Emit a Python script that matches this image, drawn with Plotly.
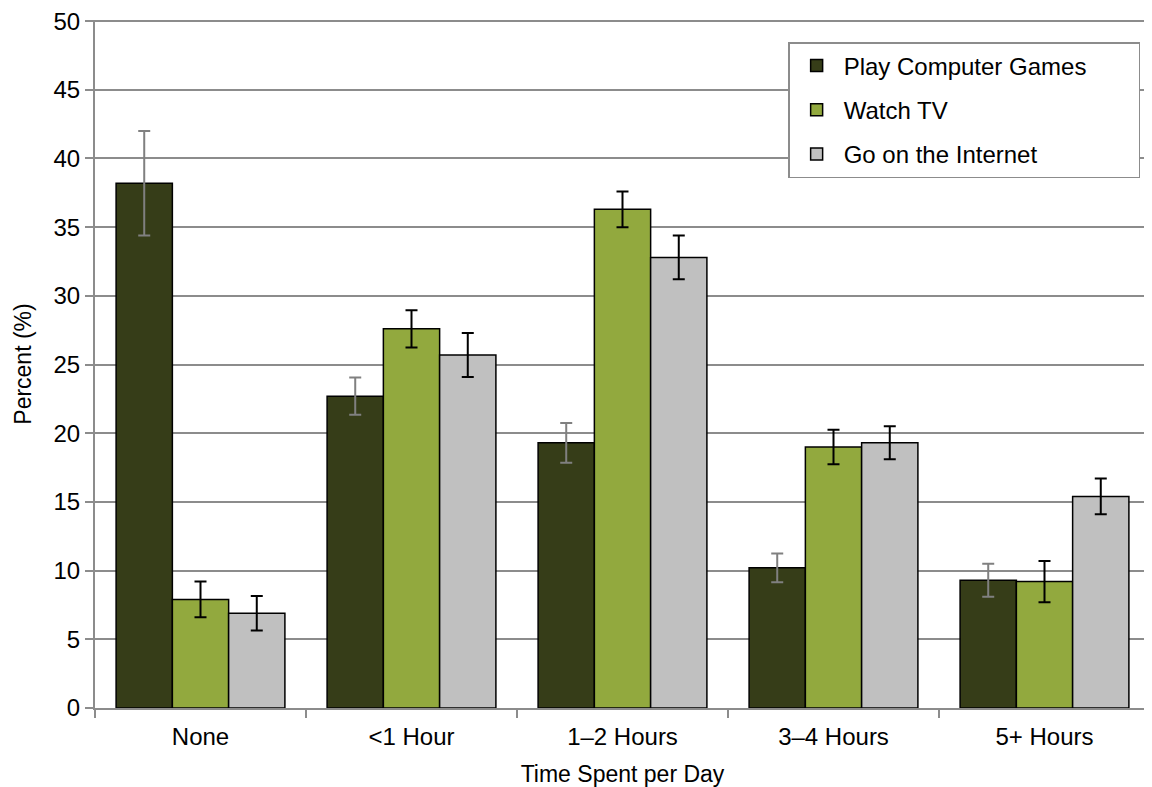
import plotly.graph_objects as go

categories = ["None", "<1 Hour", "1–2 Hours", "3–4 Hours", "5+ Hours"]

games = [38.2, 22.7, 19.3, 10.2, 9.3]
games_err = [3.8, 1.35, 1.45, 1.05, 1.2]

tv = [7.9, 27.6, 36.3, 19.0, 9.2]
tv_err = [1.3, 1.35, 1.3, 1.25, 1.5]

internet = [6.9, 25.7, 32.8, 19.3, 15.4]
internet_err = [1.25, 1.6, 1.6, 1.2, 1.3]

series = [
    ("Play Computer Games", games, games_err, "#363d18", "#808080"),
    ("Watch TV", tv, tv_err, "#92a93e", "#000000"),
    ("Go on the Internet", internet, internet_err, "#c0c0c0", "#000000"),
]

fig = go.Figure()
for i, (name, vals, errs, color, ecolor) in enumerate(series):
    fig.add_trace(go.Bar(
        name=name + "\u00a0" * 7,
        x=categories,
        y=vals,
        legendgroup=f"g{i}",
        marker=dict(color=color, line=dict(color="#000000", width=1.5)),
        error_y=dict(type="data", array=errs, visible=True,
                     color=ecolor, thickness=2, width=6),
    ))

font = "Liberation Sans, Arial, sans-serif"

# page body has an 8px margin, so the figure is a bit smaller than the window
fig.update_layout(
    width=1144, height=779,
    margin=dict(l=87, r=2, t=12, b=79, autoexpand=False),
    barmode="group",
    bargap=0.2,
    bargroupgap=0,
    plot_bgcolor="white",
    paper_bgcolor="white",
    font=dict(family=font, size=24, color="#000000"),
    showlegend=True,
    legend=dict(
        x=0.657, y=0.968, xanchor="left", yanchor="top",
        bordercolor="#8c8c8c", borderwidth=1.5,
        bgcolor="white",
        font=dict(size=24),
        itemwidth=44,
        traceorder="grouped", tracegroupgap=10,
    ),
    xaxis=dict(
        title=dict(text="Time Spent per Day", font=dict(size=23), standoff=17),
        automargin=False,
        showline=True, linecolor="#8c8c8c", linewidth=2,
        ticks="outside", tickson="boundaries", ticklen=8,
        tickcolor="#8c8c8c", tickwidth=2,
        ticklabelstandoff=6,
        tickfont=dict(size=24),
    ),
    yaxis=dict(
        title=dict(text="Percent (%)", font=dict(size=23), standoff=15),
        automargin=False,
        range=[0, 50.08], tick0=0, dtick=5,
        showline=True, linecolor="#8c8c8c", linewidth=2,
        ticks="outside", ticklen=8, tickcolor="#8c8c8c", tickwidth=2,
        ticklabeloverflow="allow",
        showgrid=True, gridcolor="#8c8c8c", gridwidth=2,
        zeroline=False,
        tickfont=dict(size=24),
    ),
)

fig.write_html("out.html")
